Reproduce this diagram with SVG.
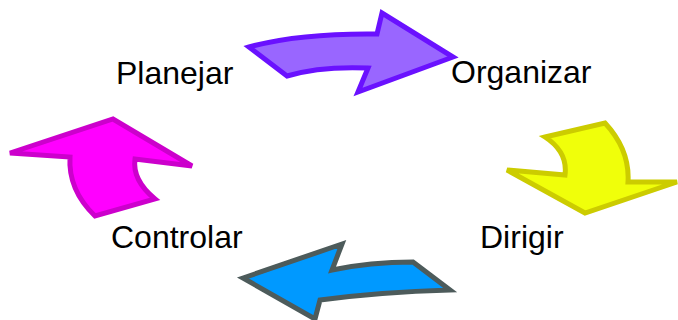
<svg xmlns="http://www.w3.org/2000/svg" width="678" height="320" viewBox="0 0 678 320">
  <style>
    .lbl { font-family: "Liberation Sans", Arial, sans-serif; font-size: 32px; fill: #000; }
    .arw { stroke-width: 5; stroke-linejoin: miter; }
  </style>
  <rect width="678" height="320" fill="#fff"/>
  <g id="connectors">
    <path id="arrow-plan-org" class="arw" fill="#9966ff" stroke="#6a11ff" d="M249,47 Q300,33 377,34 L382,13 L453,57 L358,92 L368,68 Q320,66 287,76 Z"/>
    <path id="arrow-org-dir" class="arw" fill="#f0ff0a" stroke="#cccc00" d="M545,137 L605,123 Q630,150 628,182 L677,182 L585,213 L507,170 L565,175 Q568,152 545,137 Z"/>
    <path id="arrow-dir-ctrl" class="arw" fill="#0099ff" stroke="#4d5b5b" d="M243,278 L342,244 L332,270 Q370,262 413,262 L450,290 Q380,292 320,300 L315,319 Z"/>
    <path id="arrow-ctrl-plan" class="arw" fill="#ff00ff" stroke="#cc00cc" d="M10,153 L113,119 L192,166 L135,159 Q132,180 155,199 L95,216 Q68,190 70,157 Z"/>
  </g>
  <g id="planejar"><text class="lbl" x="116" y="84">Planejar</text></g>
  <g id="organizar"><text class="lbl" x="451" y="83">Organizar</text></g>
  <g id="dirigir"><text class="lbl" x="480" y="248">Dirigir</text></g>
  <g id="controlar"><text class="lbl" x="111" y="248">Controlar</text></g>
</svg>
